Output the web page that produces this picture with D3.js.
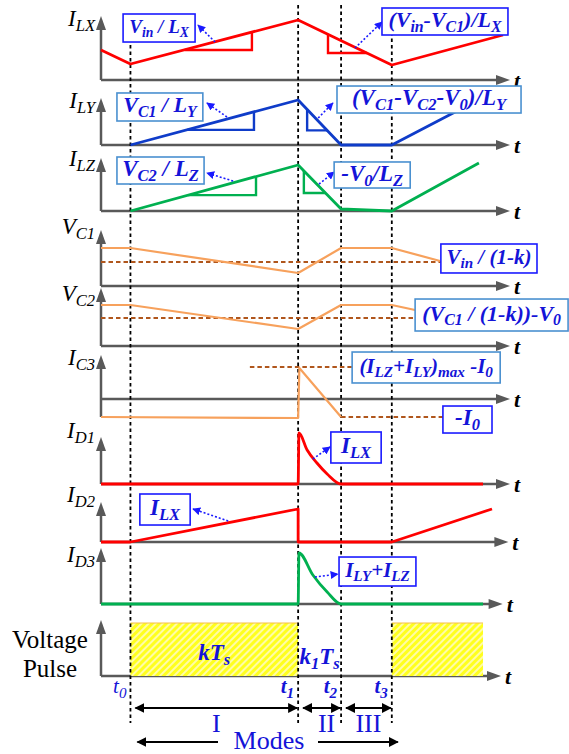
<!DOCTYPE html>
<html>
<head>
<meta charset="utf-8">
<script src="https://d3js.org/d3.v7.min.js"></script>
<style>
  body { margin: 0; background: #fff; }
  svg { display: block; }
  svg text { font-family: "Liberation Serif", "DejaVu Serif", "Times New Roman", serif; }
</style>
</head>
<body>
<svg id="chart"></svg>
<script>
// switching instants (time units on a 0..100 axis)
var switchTimes = [7.2, 48.2, 58.7, 71.1];
var switchNames = ["t_{0}", "t_{1}", "t_{2}", "t_{3}"];
var modeNames = ["I", "II", "III"];

// waveforms: [time, level] with level on a 0..10 scale per row
var iLX = [[0, 5.0], [7.2, 2.67], [48.2, 10], [71.1, 2.5], [98.3, 7.5]];
var iLY = [[7.2, 0], [48.2, 7.5], [58.7, 0], [71.1, 0], [90.2, 6.8]];
var iLZ = [[7.2, 0], [48.2, 7.67], [58.7, 0.33], [71.1, 0], [92.4, 8.0]];
var vC1 = [[0, 6.33], [7.2, 6.33], [48.2, 2.17], [58.7, 6.33], [71.1, 6.33], [82.9, 4.17]];
var vC2 = [[0, 6.83], [7.2, 6.83], [48.2, 2.83], [58.7, 6.83], [71.1, 6.83], [76.8, 6.0]];
var iC3 = [[0, -3], [48.2, -3.17], [48.5, 5.17], [58.7, -3]];
var iD1 = [[0, 0], [48.2, 0], [48.4, 8.5], [50.4, 5.67], [52.8, 3.5], [55.3, 1.67], [58.7, 0], [93.4, 0]];
var iD2 = [[0, 0], [7.2, 0], [48.2, 5.5], [48.2, 0], [71.1, 0], [95.6, 5.5]];
var iD3 = [[0, 0], [48.2, 0], [48.4, 8.5], [51.8, 4.83], [55.3, 2.0], [58.7, 0], [93.4, 0]];
var pulses = [[7.2, 48.2], [71.1, 93.4]];

// reference (dashed) levels: [row, level, from, to]
var refLevels = [["vC1", 4.0, 0, 83.1], ["vC2", 4.67, 0, 76.8], ["iC3", 5.33, 36.4, 61.4], ["iC3", -3, 58.7, 83.6]];

// slope triangles
var slopes = [
  ["iLX", [[20.5, 5.0], [36.9, 5.0], [36.9, 8.0]]],
  ["iLX", [[55.5, 7.6], [55.5, 4.5], [65.0, 4.5]]],
  ["iLY", [[21.0, 2.52], [37.4, 2.52], [37.4, 5.52]]],
  ["iLY", [[50.4, 5.93], [50.4, 2.43], [55.3, 2.43]]],
  ["iLZ", [[21.3, 2.64], [37.9, 2.64], [37.9, 5.74]]],
  ["iLZ", [[49.6, 6.69], [49.6, 3.0], [54.9, 3.0]]]
];

var noteTexts = ["V_{in} / L_{X}", "(V_{in}-V_{C1})/L_{X}", "V_{C1} / L_{Y}", "(V_{C1}-V_{C2}-V_{0})/L_{Y}",
  "V_{C2} / L_{Z}", "-V_{0}/L_{Z}", "V_{in} / (1-k)", "(V_{C1} / (1-k))-V_{0}",
  "(I_{LZ}+I_{LY})_{max} -I_{0}", "-I_{0}", "I_{LX}", "I_{LX}", "I_{LY}+I_{LZ}"];

var RED = "#ff0000", BLUE = "#0f3cc9", GREEN = "#00b050", ORANGE = "#f7a15c", BROWN = "#b0561c";
var GRAY = "#595959", TXT = "#1414d8", EDGE1 = "#1a1aff", EDGE2 = "#4a90d0";
var FONT = "'Liberation Serif', 'DejaVu Serif', serif";

var rows = {
  iLX: {base: 80, tip: 16, end: 100, lab: "I_{LX}", labY: 26},
  iLY: {base: 145, tip: 98, end: 100, lab: "I_{LY}", labY: 108},
  iLZ: {base: 211, tip: 158, end: 100, lab: "I_{LZ}", labY: 166},
  vC1: {base: 286, tip: 230, end: 100, lab: "V_{C1}", labY: 234},
  vC2: {base: 346, tip: 288, end: 100, lab: "V_{C2}", labY: 301},
  iC3: {base: 399, tip: 355, end: 100, lab: "I_{C3}", labY: 365, low: -3},
  iD1: {base: 484, tip: 437, end: 100, lab: "I_{D1}", labY: 438},
  iD2: {base: 542, tip: 502, end: 99.6, lab: "I_{D2}", labY: 502},
  iD3: {base: 604, tip: 548, end: 98.2, lab: "I_{D3}", labY: 562}
};

var notes = [
  {row: "iLX", t: [5.4, 23.0], v: [11.0, 6.33], edge: EDGE1, from: [27.9, 6.33], to: [23.7, 9.17]},
  {row: "iLX", t: [68.7, 99.5], v: [12.0, 7.5], edge: EDGE1, from: [62.1, 5.33], to: [68.7, 9.67]},
  {row: "iLY", t: [3.9, 24.9], v: [8.67, 4.0], edge: EDGE2, from: [30.8, 4.67], to: [25.9, 7.0]},
  {row: "iLY", t: [57.7, 102.7], v: [9.83, 5.33], edge: EDGE2, from: [53.1, 4.5], to: [56.7, 7.0]},
  {row: "iLZ", t: [3.9, 25.2], v: [9.0, 4.5], edge: EDGE2, from: [32.3, 5.0], to: [25.9, 6.33]},
  {row: "iLZ", t: [57.0, 75.6], v: [8.17, 3.83], edge: EDGE2, from: [53.3, 4.5], to: [57.0, 6.5]},
  {row: "vC1", t: [83.1, 106.6], v: [7.0, 2.17], edge: EDGE1},
  {row: "vC2", t: [76.8, 114.2], v: [7.83, 2.5], edge: EDGE2},
  {row: "iC3", t: [61.4, 97.6], v: [7.83, 2.67], edge: EDGE2},
  {row: "iC3", t: [83.6, 95.6], v: [-1.17, -5.67], edge: EDGE1},
  {row: "iD1", t: [56.2, 68.5], v: [8.67, 3.5], edge: EDGE1, from: [51.8, 4.17], to: [56.0, 6.17]},
  {row: "iD2", t: [9.5, 21.8], v: [8.0, 2.83], edge: EDGE1, from: [31.1, 3.5], to: [22.5, 5.5]},
  {row: "iD3", t: [58.2, 77.0], v: [7.83, 3.0], edge: EDGE1, from: [52.3, 4.5], to: [57.9, 5.0]}
];

var svg = d3.select("#chart").attr("width", 569).attr("height", 754);
var x = d3.scaleLinear().domain([0, 100]).range([101, 510]);
var x0 = x(0);
Object.keys(rows).forEach(function(k) {
  rows[k].y = d3.scaleLinear().domain([0, 10]).range([rows[k].base, rows[k].base - 60]);
});
var py = d3.scaleLinear().domain([0, 1]).range([676, 623]);

var defs = svg.append("defs");
var pat = defs.append("pattern").attr("id", "hatch").attr("patternUnits", "userSpaceOnUse")
  .attr("width", 5).attr("height", 5).attr("patternTransform", "rotate(45)");
pat.append("rect").attr("width", 5).attr("height", 5).attr("fill", "#ffff1e");
pat.append("line").attr("x1", 1).attr("y1", 0).attr("x2", 1).attr("y2", 5)
  .attr("stroke", "#fffcc0").attr("stroke-width", 1.7);

function marker(id, color, size) {
  defs.append("marker").attr("id", id).attr("viewBox", "0 0 10 10")
    .attr("refX", 9).attr("refY", 5)
    .attr("markerWidth", size).attr("markerHeight", size)
    .attr("markerUnits", "userSpaceOnUse").attr("orient", "auto-start-reverse")
    .append("path").attr("d", "M0,0L10,5L0,10z").attr("fill", color);
}
marker("blueHead", "#1a1aff", 8);
marker("blackHead", "#000", 10);

function rich(g, str, size, o) {
  var t = g.append("text").attr("x", o.x).attr("y", o.y)
    .attr("font-family", FONT)
    .attr("text-anchor", o.anchor || "start").attr("fill", o.fill || "#000")
    .style("font-style", o.italic === false ? "normal" : "italic")
    .style("font-weight", o.bold ? "bold" : "normal");
  var down = false;
  str.split(/(_\{[^}]*\})/).filter(function(s) { return s.length; }).forEach(function(p) {
    var sub = p.indexOf("_{") === 0;
    var ts = t.append("tspan").text(sub ? p.slice(2, -1) : p)
      .style("font-size", (sub ? size * 0.72 : size) + "px");
    if (sub && !down) { ts.attr("dy", size * 0.22); down = true; }
    else if (!sub && down) { ts.attr("dy", -size * 0.22); down = false; }
  });
  return t;
}

var lineG = svg.append("g");

// axes
function axes(base, tip, endT, low) {
  var xe = x(endT);
  lineG.append("line").attr("x1", x0).attr("y1", base).attr("x2", xe - 8).attr("y2", base)
    .attr("stroke", GRAY).attr("stroke-width", 2.5);
  lineG.append("path").attr("d", "M" + xe + "," + base + "L" + (xe - 14) + "," + (base - 5) + "L" + (xe - 14) + "," + (base + 5) + "z")
    .attr("fill", GRAY);
  lineG.append("line").attr("x1", x0).attr("y1", low).attr("x2", x0).attr("y2", tip + 8)
    .attr("stroke", GRAY).attr("stroke-width", 2.5);
  lineG.append("path").attr("d", "M" + x0 + "," + tip + "L" + (x0 - 5) + "," + (tip + 14) + "L" + (x0 + 5) + "," + (tip + 14) + "z")
    .attr("fill", GRAY);
  rich(lineG, "t", 22, {x: xe + 4, y: base + 8, bold: true});
}
Object.keys(rows).forEach(function(k) {
  var r = rows[k];
  axes(r.base, r.tip, r.end, r.low !== undefined ? r.y(r.low) : r.base);
  rich(lineG, r.lab, 23, {x: 95, y: r.labY, anchor: "end"});
});
axes(676, 620, 97.8, 676);

// pulses
pulses.forEach(function(p) {
  lineG.append("rect").attr("x", x(p[0])).attr("y", py(1))
    .attr("width", x(p[1]) - x(p[0])).attr("height", py(0) - py(1)).attr("fill", "url(#hatch)");
  lineG.append("line").attr("x1", x(p[0])).attr("x2", x(p[1])).attr("y1", py(1)).attr("y2", py(1))
    .attr("stroke", "#f6c04a").attr("stroke-width", 1.2);
});

// switching instants
switchTimes.forEach(function(t, i) {
  lineG.append("line").attr("x1", x(t)).attr("x2", x(t))
    .attr("y1", (i === 0 || i === 3) ? 32 : 5).attr("y2", 723)
    .attr("stroke", "#000").attr("stroke-width", 1.8).attr("stroke-dasharray", "3.5,3");
});

// reference levels
refLevels.forEach(function(d) {
  var r = rows[d[0]];
  lineG.append("line").attr("x1", x(d[2])).attr("x2", x(d[3])).attr("y1", r.y(d[1])).attr("y2", r.y(d[1]))
    .attr("stroke", BROWN).attr("stroke-width", 2).attr("stroke-dasharray", "4.5,3");
});

// waveforms
var series = [
  ["iLX", iLX, RED, 2.8, d3.curveLinear], ["iLY", iLY, BLUE, 2.8, d3.curveLinear],
  ["iLZ", iLZ, GREEN, 2.8, d3.curveLinear], ["vC1", vC1, ORANGE, 2.2, d3.curveLinear],
  ["vC2", vC2, ORANGE, 2.2, d3.curveLinear], ["iC3", iC3, ORANGE, 2.2, d3.curveLinear],
  ["iD1", iD1, RED, 2.8, d3.curveMonotoneX], ["iD2", iD2, RED, 2.8, d3.curveLinear],
  ["iD3", iD3, GREEN, 2.8, d3.curveMonotoneX]
];
series.forEach(function(s) {
  var r = rows[s[0]];
  var gen = d3.line().x(function(d) { return x(d[0]); }).y(function(d) { return r.y(d[1]); }).curve(s[4]);
  lineG.append("path").attr("d", gen(s[1])).attr("fill", "none")
    .attr("stroke", s[2]).attr("stroke-width", s[3]).attr("stroke-linejoin", "round");
});

var slopeColor = {iLX: RED, iLY: BLUE, iLZ: GREEN};
slopes.forEach(function(s) {
  var r = rows[s[0]];
  var gen = d3.line().x(function(d) { return x(d[0]); }).y(function(d) { return r.y(d[1]); });
  lineG.append("path").attr("d", gen(s[1])).attr("fill", "none")
    .attr("stroke", slopeColor[s[0]]).attr("stroke-width", 2.4);
});

// annotation boxes
var noteG = svg.append("g");
notes.forEach(function(n, i) {
  var r = rows[n.row];
  if (n.from) {
    noteG.append("line").attr("x1", x(n.from[0])).attr("y1", r.y(n.from[1]))
      .attr("x2", x(n.to[0])).attr("y2", r.y(n.to[1]))
      .attr("stroke", "#1a1aff").attr("stroke-width", 1.6).attr("stroke-dasharray", "2,2")
      .attr("marker-end", "url(#blueHead)");
  }
  var bx0 = x(n.t[0]), bx1 = x(n.t[1]), by0 = r.y(n.v[0]), by1 = r.y(n.v[1]);
  noteG.append("rect").attr("x", bx0).attr("y", by0).attr("width", bx1 - bx0).attr("height", by1 - by0)
    .attr("fill", "#fff").attr("stroke", n.edge).attr("stroke-width", 1.6);
  var size = 23, t;
  while (true) {
    t = rich(noteG, noteTexts[i], size, {x: (bx0 + bx1) / 2, y: (by0 + by1) / 2 + size * 0.25, anchor: "middle", fill: TXT, bold: true});
    if (t.node().getComputedTextLength() <= (bx1 - bx0) - 10 || size <= 12) break;
    t.remove();
    size -= 1;
  }
});

// voltage pulse texts
var botG = svg.append("g");
botG.append("text").attr("x", 50).attr("y", 648).attr("text-anchor", "middle").attr("font-family", FONT)
  .style("font-size", "25px").text("Voltage");
botG.append("text").attr("x", 50).attr("y", 677).attr("text-anchor", "middle").attr("font-family", FONT)
  .style("font-size", "25px").text("Pulse");
rich(botG, "kT_{s}", 23, {x: (x(switchTimes[0]) + x(switchTimes[1])) / 2, y: 660, anchor: "middle", fill: TXT, bold: true});
rich(botG, "k_{1}T_{s}", 23, {x: (x(switchTimes[1]) + x(switchTimes[2])) / 2, y: 664, anchor: "middle", fill: TXT, bold: true});

switchNames.forEach(function(s, i) {
  rich(botG, s, 21, {x: x(switchTimes[i]) - 4, y: 693, anchor: "end", fill: TXT, bold: i > 0});
});

// mode spans
modeNames.forEach(function(m, i) {
  var a = x(switchTimes[i]) + 5, b = x(switchTimes[i + 1]) - 1;
  botG.append("line").attr("x1", a).attr("x2", b).attr("y1", 708).attr("y2", 708)
    .attr("stroke", "#000").attr("stroke-width", 1.8)
    .attr("marker-start", "url(#blackHead)").attr("marker-end", "url(#blackHead)");
  botG.append("text").attr("x", (a + b) / 2 + (i === 1 ? 5 : 0)).attr("y", 732).attr("text-anchor", "middle")
    .attr("font-family", FONT).attr("fill", TXT).style("font-size", "26px").text(m);
});
botG.append("line").attr("x1", 218).attr("x2", x(switchTimes[0]) + 7).attr("y1", 742).attr("y2", 742)
  .attr("stroke", "#000").attr("stroke-width", 1.8).attr("marker-end", "url(#blackHead)");
botG.append("line").attr("x1", 318).attr("x2", x(switchTimes[3]) + 6).attr("y1", 742).attr("y2", 742)
  .attr("stroke", "#000").attr("stroke-width", 1.8).attr("marker-end", "url(#blackHead)");
botG.append("text").attr("x", 269).attr("y", 749).attr("text-anchor", "middle").attr("font-family", FONT)
  .attr("fill", TXT).style("font-size", "26px").text("Modes");
</script>
</body>
</html>
